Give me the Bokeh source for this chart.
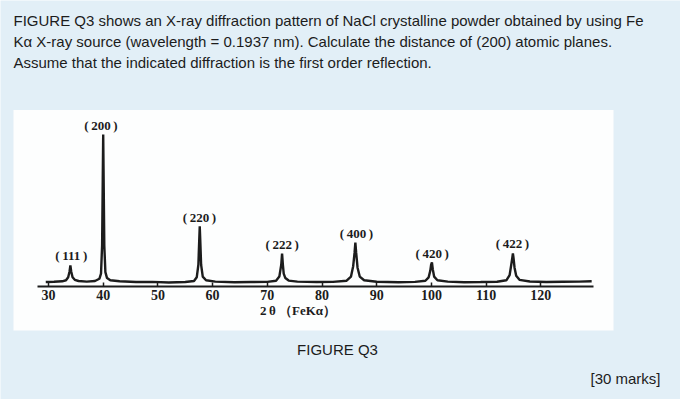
from bokeh.plotting import figure
from bokeh.models import Range1d, LinearAxis, FixedTicker, Label, BoxAnnotation
from bokeh.embed import file_html
from bokeh.resources import INLINE

# ---- data ----
two_theta = [29.5, 31.0, 32.5, 33.2, 33.6, 33.85, 34.0, 34.15, 34.4, 34.8, 35.5,
             37.0, 38.5, 39.3, 39.6, 39.8, 39.92, 40.0, 40.08, 40.2, 40.4, 40.7, 41.3,
             43.0, 46.0, 49.0, 52.0, 55.0, 56.6, 57.1, 57.4, 57.55, 57.65, 57.75, 57.9, 58.2, 58.8,
             60.5, 64.0, 67.0, 70.0, 71.6, 72.2, 72.55, 72.7, 72.85, 73.0, 73.3, 73.9,
             75.5, 79.0, 82.0, 84.5, 85.3, 85.7, 85.95, 86.1, 86.25, 86.5, 86.9, 87.7,
             90.0, 94.0, 97.0, 98.9, 99.5, 99.8, 99.95, 100.1, 100.25, 100.5, 101.1,
             103.0, 106.0, 109.0, 112.0, 113.7, 114.3, 114.6, 114.8, 114.9, 115.0, 115.2, 115.5, 116.1,
             118.0, 121.0, 124.0, 127.0, 129.3]
intensity = [0.3, 0.5, 0.8, 1.5, 3.5, 7.5, 11.5, 7.5, 3.5, 1.8, 1.0,
             0.6, 1.0, 2.5, 6.0, 25.0, 70.0, 100.0, 70.0, 25.0, 7.0, 3.0, 1.5,
             0.8, 0.3, 0.4, 0.0, 0.3, 1.0, 3.5, 12.0, 28.0, 38.0, 28.0, 12.0, 4.0, 1.5,
             0.6, 0.2, 0.3, 0.4, 1.2, 4.0, 12.0, 19.6, 12.0, 6.0, 3.0, 1.3,
             0.6, 0.3, 0.4, 1.2, 4.0, 11.0, 20.0, 27.0, 20.0, 10.0, 4.0, 1.5,
             0.5, 0.2, 0.4, 1.2, 3.5, 8.0, 12.0, 13.5, 9.0, 4.0, 1.5,
             0.6, 0.2, 0.3, 0.5, 1.5, 5.0, 12.0, 17.0, 19.6, 17.0, 10.0, 4.5, 1.8,
             0.7, 0.3, 0.5, 0.6, 0.8]
peak_labels = ["(111)", "(200)", "(220)", "(222)", "(400)", "(420)", "(422)"]
tick_values = [30, 40, 50, 60, 70, 80, 90, 100, 110, 120]

question_lines = [
    "FIGURE Q3 shows an X-ray diffraction pattern of NaCl crystalline powder obtained by using Fe",
    "K\u03b1 X-ray source (wavelength = 0.1937 nm). Calculate the distance of (200) atomic planes.",
    "Assume that the indicated diffraction is the first order reflection.",
]
caption = "FIGURE Q3"
marks = "[30 marks]"
x_title = "2\u2009\u03b8 \uff08FeK\u03b1\uff09"

# ---- pixel <-> data mapping for a full-canvas frame ----
W, H = 680, 399
PX_PER_DEG = 5.47
X30_PX = 48.0
BASE_PX = 282.0
PX_PER_INT = 1.48


def xd(px):
    return 30 + (px - X30_PX) / PX_PER_DEG


def yd(py):
    return (BASE_PX - py) / PX_PER_INT


BG = "#e2eff7"
INK = "#1c1c1c"

p = figure(width=W, height=H, output_backend="svg", toolbar_location=None,
           x_range=Range1d(xd(0), xd(W)), y_range=Range1d(yd(H), yd(0)),
           x_axis_type=None, y_axis_type=None, min_border=0,
           background_fill_color=BG, border_fill_color=BG, outline_line_color=None)
p.grid.visible = False

panel = BoxAnnotation(left=xd(13), right=xd(613), top=yd(109.5), bottom=yd(330),
                      fill_color="#fdfefe", fill_alpha=1.0, line_color=None, level="underlay")
p.add_layout(panel)

p.line(two_theta, intensity, line_color=INK, line_width=2.4)

ax = LinearAxis(fixed_location=yd(285.5), bounds=(xd(36.7), xd(593)),
                ticker=FixedTicker(ticks=tick_values),
                axis_line_width=2, axis_line_color=INK,
                major_tick_in=4, major_tick_out=0, major_tick_line_width=1.5,
                major_tick_line_color=INK, minor_tick_line_color=None,
                major_label_text_font="Liberation Serif", major_label_text_font_style="bold",
                major_label_text_font_size="14px", major_label_text_color=INK,
                major_label_standoff=4)
p.add_layout(ax, "below")

# peak labels
label_px = [(70.8, 255), (100.5, 125.3), (199, 216.7), (281.7, 244.3),
            (356, 232.7), (431.7, 252.7), (512, 243.3)]
for txt, (lx, ly) in zip(peak_labels, label_px):
    t = txt.replace("(", "(\u2009").replace(")", "\u2009)")
    p.add_layout(Label(x=xd(lx), y=yd(ly), text=t, text_align="center", text_baseline="middle",
                       text_font="Liberation Serif", text_font_style="bold",
                       text_font_size="13px", text_color=INK))

p.add_layout(Label(x=xd(297.5), y=yd(310), text=x_title, text_align="center", text_baseline="middle",
                   text_font="Liberation Serif", text_font_style="bold",
                   text_font_size="13px", text_color=INK))

for line, cy in zip(question_lines, [20, 41, 62]):
    p.add_layout(Label(x=xd(13), y=yd(cy), text=line, text_align="left", text_baseline="middle",
                       text_font="Liberation Sans", text_font_size="15px", text_color=INK))

p.add_layout(Label(x=xd(337), y=yd(349), text=caption, text_align="center", text_baseline="middle",
                   text_font="Liberation Sans", text_font_size="15px", text_color=INK))
p.add_layout(Label(x=xd(660), y=yd(378), text=marks, text_align="right", text_baseline="middle",
                   text_font="Liberation Sans", text_font_size="15px", text_color=INK))

open("out.html", "w").write(file_html(p, INLINE))
